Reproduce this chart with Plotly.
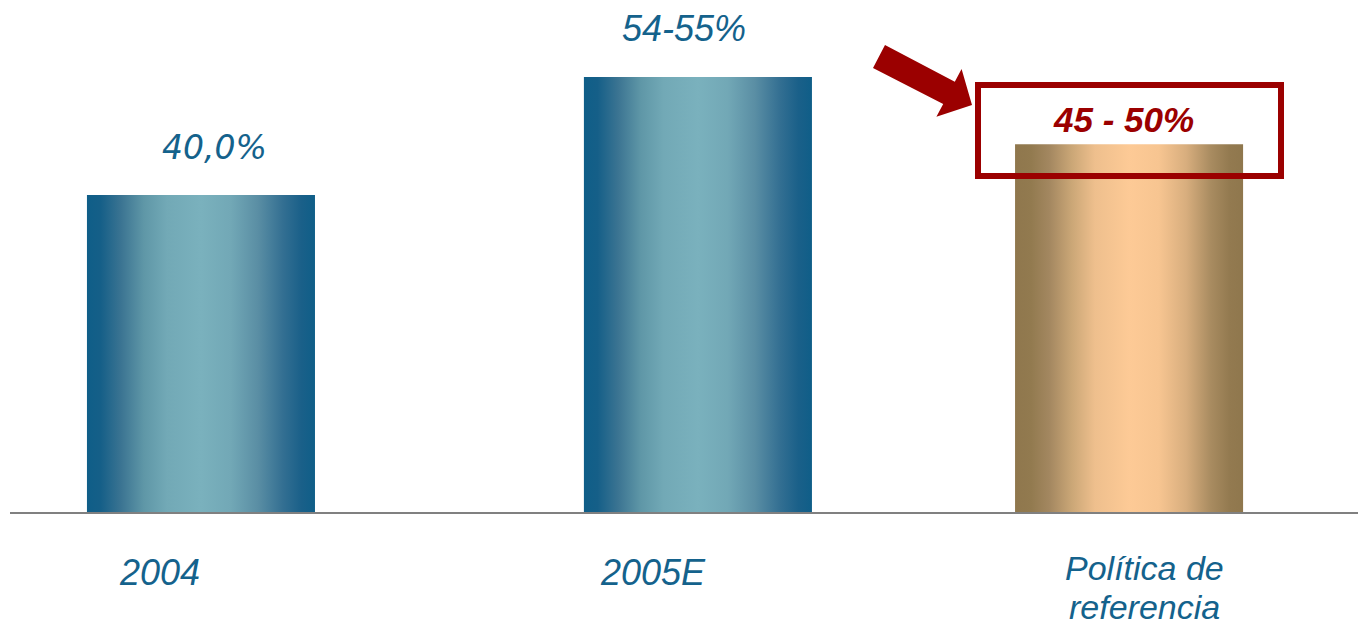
import plotly.graph_objects as go

# ---- data ----
categories = ["2004", "2005E", "Política de<br>referencia"]
values = [40.0, 54.9, 46.4]
value_labels = ["40,0%", "54-55%", "45 - 50%"]

# ---- layout constants ----
x_centers = [0.850, 3.062, 4.981]
bar_width = 1.015
X_RANGE = [0, 6]
Y_RANGE = [0, 64.6]

BLUE_SCALE = [[0, "#0f5e88"], [0.06, "#155f88"], [0.15, "#3b7492"], [0.25, "#5f97a7"], [0.35, "#72a9b6"],
              [0.5, "#7ab1bd"], [0.63, "#72a8b6"], [0.75, "#5a8ea4"], [0.86, "#336f92"], [0.94, "#1a6089"], [1, "#0f5e88"]]
GOLD_SCALE = [[0, "#8f774d"], [0.07, "#927a4f"], [0.15, "#a38760"], [0.25, "#cba777"], [0.35, "#eebf8d"],
              [0.5, "#fdca96"], [0.63, "#f7c591"], [0.75, "#d8ae7e"], [0.86, "#a88b60"], [0.94, "#937a50"], [1, "#8f774d"]]
scales = [BLUE_SCALE, BLUE_SCALE, GOLD_SCALE]

TEXT_BLUE = "#14628c"
DARK_RED = "#9b0000"

fig = go.Figure()

for xc, v, cs in zip(x_centers, values, scales):
    x0, x1 = xc - bar_width / 2, xc + bar_width / 2
    fig.add_trace(go.Scatter(
        x=[x0, x0, x1, x1, x0], y=[0, v, v, 0, 0],
        mode="lines", fill="toself",
        fillgradient=dict(type="horizontal", colorscale=cs),
        line=dict(width=0, color="rgba(0,0,0,0)"),
        hoverinfo="skip", showlegend=False,
    ))

# value labels
label_fonts = [
    dict(family="DejaVu Sans", size=33, color=TEXT_BLUE),
    dict(family="Liberation Sans, Arial", size=36, color=TEXT_BLUE),
    dict(family="Liberation Sans, Arial", size=35, color=DARK_RED, weight="bold"),
]
label_xshift = [14, -14, -6]
label_yshift = [47, 48, 25]
for xc, v, t, f, xs, ys in zip(x_centers, values, value_labels, label_fonts, label_xshift, label_yshift):
    fig.add_annotation(
        x=xc, y=v, xref="x", yref="y", text=t, showarrow=False,
        font=dict(style="italic", **f), xanchor="center", yanchor="middle",
        xshift=xs, yshift=ys,
    )

# category labels (multi-line labels split into lines for tighter spacing)
cat_xshift = [-41, -45, 15]
LINE_GAP = 39
for xc, c, xs in zip(x_centers, categories, cat_xshift):
    lines = c.split("<br>")
    size = 36 if len(lines) == 1 else 34
    y0 = -60 if len(lines) == 1 else -56
    for i, ln in enumerate(lines):
        fig.add_annotation(
            x=xc, y=0, xref="x", yref="y", text=ln, showarrow=False,
            font=dict(family="Liberation Sans, Arial", size=size, color=TEXT_BLUE, style="italic"),
            xanchor="center", yanchor="middle", xshift=xs, yshift=y0 - i * LINE_GAP,
            borderpad=0,
        )

# decoration helpers: pixel -> paper (plot area spans px x 10..1358, y 0..512)
def px(x, y):
    return (x - 10) / 1348, (512 - y) / 512

# highlight box
bx0, by0 = px(978, 176)
bx1, by1 = px(1281, 85)
fig.add_shape(type="rect", xref="paper", yref="paper", x0=bx0, y0=by0, x1=bx1, y1=by1,
              line=dict(color=DARK_RED, width=6), fillcolor="rgba(0,0,0,0)", layer="above")

# block arrow
pts = [(885, 45), (954.8, 81.8), (961.6, 69), (972, 105), (936.4, 116.8), (943.2, 104), (873, 68)]
path = "M " + " L ".join("{:.5f},{:.5f}".format(*px(a, b)) for a, b in pts) + " Z"
fig.add_shape(type="path", xref="paper", yref="paper", path=path,
              fillcolor=DARK_RED, line=dict(color=DARK_RED, width=0), layer="above")

fig.update_layout(
    width=1358, height=627,
    margin=dict(l=10, r=0, t=0, b=115),
    paper_bgcolor="white", plot_bgcolor="white",
    xaxis=dict(range=X_RANGE, showgrid=False, zeroline=False, showticklabels=False,
               showline=True, linecolor="#808080", linewidth=2, fixedrange=True),
    yaxis=dict(range=Y_RANGE, showgrid=False, zeroline=False, showticklabels=False,
               showline=False, fixedrange=True),
    showlegend=False,
)

fig.write_html("out.html", config={"displayModeBar": False},
               post_script="document.body.style.margin='0px';document.body.style.overflow='hidden';")
